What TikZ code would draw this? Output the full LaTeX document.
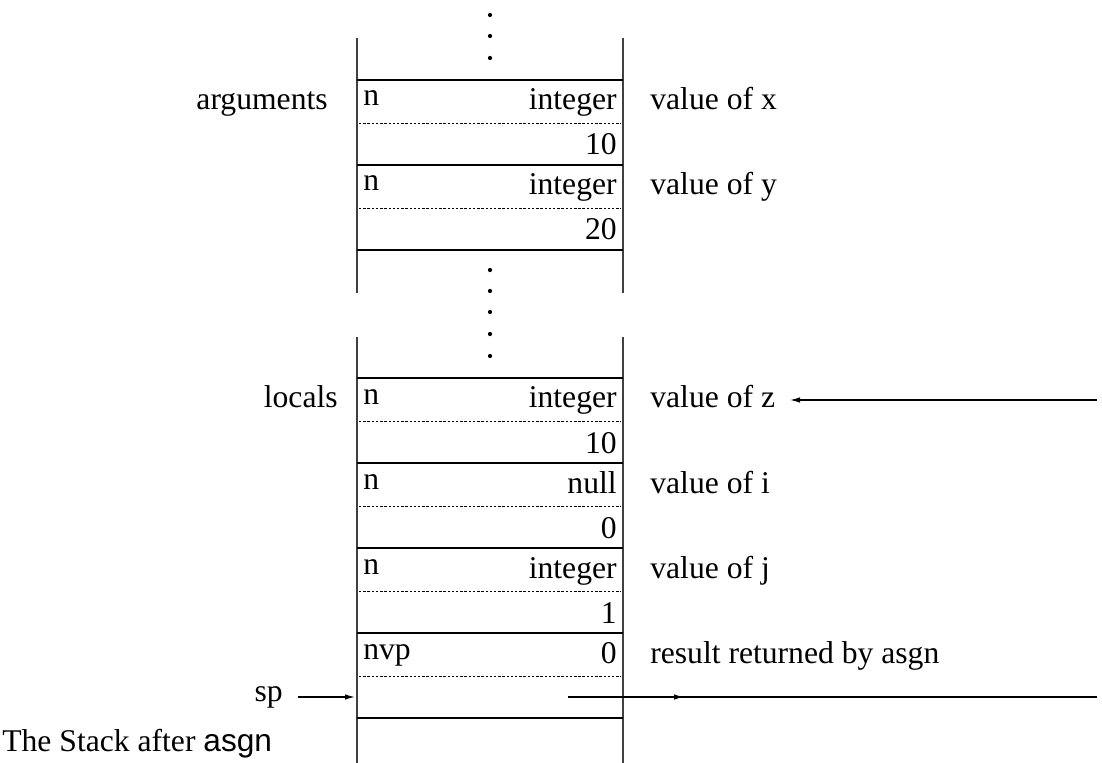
\documentclass[tikz,border=0pt]{standalone}
\usepackage{fontspec}
\setmainfont{Liberation Serif}
\setsansfont{Liberation Sans}
\usetikzlibrary{positioning,arrows.meta}

\begin{document}
\begin{tikzpicture}[
  x=0.02cm, y=-0.02cm,
  every node/.style={font=\fontsize{18}{21}\selectfont, inner sep=0pt},
  side/.style={line width=0.7pt, draw=black!75},
  slot/.style={line width=1pt},
  half/.style={line width=0.55pt, dash pattern=on 1.4pt off 1pt},
  dotmark/.style={fill=black},
  ptr/.style={line width=0.7pt, -{Latex[length=2mm, width=1.1mm]}},
  tag/.style={anchor=base west},
  val/.style={anchor=base east},
  note/.style={anchor=base west}
]
  \useasboundingbox (0,0) rectangle (1102,763);

  % Stack sides
  \draw[side] (357,38) -- (357,293);
  \draw[side] (623,38) -- (623,293);
  \draw[side] (357,337) -- (357,763);
  \draw[side] (623,337) -- (623,763);

  % Continuation dots
  \fill[dotmark] (490,15) circle[radius=1.2pt] (490,36) circle[radius=1.2pt]
                 (490,58) circle[radius=1.2pt];
  \fill[dotmark] (490,270) circle[radius=1.2pt] (490,291) circle[radius=1.2pt]
                 (490,312) circle[radius=1.2pt] (490,334) circle[radius=1.2pt]
                 (490,356) circle[radius=1.2pt];

  % Slot boundaries
  \draw[slot] (357,80) -- (623,80);
  \draw[slot] (357,165) -- (623,165);
  \draw[slot] (357,250) -- (623,250);
  \draw[slot] (357,378) -- (623,378);
  \draw[slot] (357,463) -- (623,463);
  \draw[slot] (357,548) -- (623,548);
  \draw[slot] (357,633) -- (623,633);
  \draw[slot] (357,718) -- (623,718);

  % Half-slot separators
  \draw[half] (359,123) -- (621,123);
  \draw[half] (359,208) -- (621,208);
  \draw[half] (359,421) -- (621,421);
  \draw[half] (359,506) -- (621,506);
  \draw[half] (359,591) -- (621,591);
  \draw[half] (359,676) -- (621,676);

  % Arguments
  \node[anchor=base east] (args) at (328,110) {arguments};
  \node[tag] (xtag)  at (363,106) {n};
  \node[val] (xtype) at (617,110) {integer};
  \node[val] (xval)  at (617,155) {10};
  \node[note] (xlab) at (650,110) {value of x};
  \node[tag] (ytag)  at (363,191) {n};
  \node[val] (ytype) at (617,195) {integer};
  \node[val] (yval)  at (617,240) {20};
  \node[note] (ylab) at (650,195) {value of y};

  % Locals
  \node[anchor=base east] (locs) at (338,408) {locals};
  \node[tag] (ztag)  at (363,404) {n};
  \node[val] (ztype) at (617,408) {integer};
  \node[val] (zval)  at (617,453) {10};
  \node[note] (zlab) at (650,408) {value of z};
  \node[tag] (itag)  at (363,489) {n};
  \node[val] (itype) at (617,493) {null};
  \node[val] (ival)  at (617,538) {0};
  \node[note] (ilab) at (650,493) {value of i};
  \node[tag] (jtag)  at (363,574) {n};
  \node[val] (jtype) at (617,578) {integer};
  \node[val] (jval)  at (617,623) {1};
  \node[note] (jlab) at (650,578) {value of j};
  \node[tag] (rtag)  at (363,659) {nvp};
  \node[val] (rval)  at (617,663) {0};
  \node[note] (rlab) at (650,663) {result returned by asgn};

  % Stack pointer
  \node[anchor=base east] (sp) at (283,701) {sp};
  \coordinate (spsrc) at (298,697);
  \coordinate (spdst) at (355,697);
  \draw[ptr] (spsrc) -- (spdst);

  % Pointers from outside
  \coordinate (zsrc) at (1097,400);
  \coordinate (zdst) at (790,400);
  \draw[ptr] (zsrc) -- (zdst);
  \coordinate (rsrc) at (568,697);
  \coordinate (rmid) at (684,697);
  \coordinate (rdst) at (1097,697);
  \draw[line width=0.7pt] (rsrc) -- (rdst);
  \draw[ptr] (rsrc) -- (rmid);

  % Caption
  \node[anchor=base west] (cap) at (2,751) {The Stack after \textsf{asgn}};
\end{tikzpicture}
\end{document}
